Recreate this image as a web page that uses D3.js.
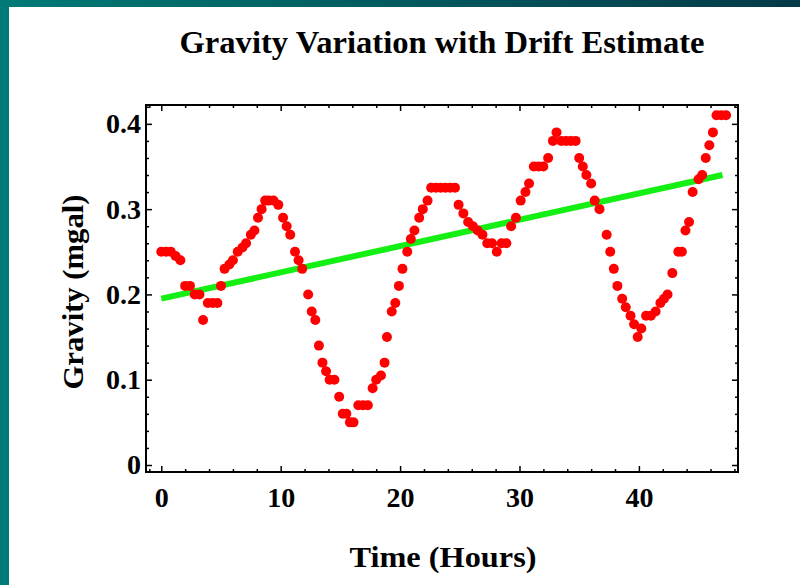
<!DOCTYPE html>
<html>
<head>
<meta charset="utf-8">
<script src="https://cdn.jsdelivr.net/npm/d3@7"></script>
<style>
  html, body { margin: 0; padding: 0; background: #fff; }
  #chart { width: 800px; height: 585px; }
  .axis text { font-family: "Liberation Serif", "DejaVu Serif", serif; font-weight: bold; fill: #000; }
  .axis path { display: none; }
  .axis line { stroke: #000; stroke-width: 1.5; }
</style>
</head>
<body>
<div id="chart"></div>
<script>
// hours since start of survey
const hours = [
  0.0, 0.4, 0.8, 1.2, 1.6, 2.0, 2.4, 2.8, 3.2, 3.5, 3.9, 4.3, 4.7, 5.0, 5.3, 5.7,
  6.0, 6.4, 6.8, 7.1, 7.5, 7.8, 8.1, 8.4, 8.7, 9.0, 9.4, 9.8, 10.2, 10.5, 10.8,
  11.2, 11.5, 11.8, 12.3, 12.6, 12.9, 13.2, 13.5, 13.8, 14.1, 14.5, 14.9, 15.2,
  15.5, 15.8, 16.1, 16.5, 16.9, 17.3, 17.7, 18.0, 18.4, 18.7, 18.9, 19.3, 19.6,
  19.9, 20.2, 20.6, 20.9, 21.2, 21.6, 21.9, 22.3, 22.6, 23.0, 23.4, 23.8, 24.2,
  24.6, 24.9, 25.3, 25.7, 26.1, 26.5, 26.9, 27.3, 27.7, 28.1, 28.5, 28.9, 29.3,
  29.7, 30.1, 30.5, 30.8, 31.2, 31.6, 32.0, 32.4, 32.8, 33.1, 33.5, 33.9, 34.3,
  34.7, 35.0, 35.3, 35.6, 36.0, 36.3, 36.7, 37.3, 37.6, 37.9, 38.2, 38.6, 38.9,
  39.3, 39.6, 39.9, 40.2, 40.6, 41.0, 41.4, 41.8, 42.1, 42.4, 42.8, 43.3, 43.6,
  43.9, 44.2, 44.5, 45.0, 45.3, 45.6, 45.9, 46.2, 46.5, 46.9, 47.3
];
// gravity reading (mgal)
const gravity = [
  0.25, 0.25, 0.25, 0.245, 0.24, 0.21, 0.21, 0.20, 0.20, 0.17, 0.19, 0.19, 0.19, 0.21, 0.23, 0.235,
  0.24, 0.25, 0.255, 0.26, 0.27, 0.275, 0.29, 0.30, 0.31, 0.31, 0.31, 0.305, 0.29, 0.28, 0.27,
  0.25, 0.24, 0.23, 0.20, 0.18, 0.17, 0.14, 0.12, 0.11, 0.10, 0.10, 0.08, 0.06,
  0.06, 0.05, 0.05, 0.07, 0.07, 0.07, 0.09, 0.10, 0.105, 0.12, 0.15, 0.18, 0.19,
  0.21, 0.23, 0.25, 0.265, 0.275, 0.29, 0.30, 0.31, 0.325, 0.325, 0.325, 0.325, 0.325,
  0.325, 0.305, 0.295, 0.285, 0.28, 0.275, 0.27, 0.26, 0.26, 0.25, 0.26, 0.26, 0.28,
  0.29, 0.31, 0.32, 0.33, 0.35, 0.35, 0.35, 0.36, 0.38, 0.39, 0.38, 0.38, 0.38,
  0.38, 0.36, 0.35, 0.34, 0.33, 0.31, 0.30, 0.27, 0.25, 0.23, 0.21, 0.195, 0.185,
  0.175, 0.165, 0.15, 0.16, 0.175, 0.175, 0.18, 0.19, 0.195, 0.20, 0.225, 0.25, 0.25,
  0.275, 0.285, 0.32, 0.335, 0.34, 0.36, 0.375, 0.39, 0.41, 0.41, 0.41
];
// linear drift estimate, end points
const driftHours = [0, 47];
const driftGravity = [0.195, 0.34];

const xTicks = [0, 10, 20, 30, 40];
const yTicks = [0, 0.1, 0.2, 0.3, 0.4];
const xMinor = [-1, 2, 4, 6, 8, 12, 14, 16, 18, 22, 24, 26, 28, 32, 34, 36, 38, 42, 44, 46, 48];
const yMinor = [0.02, 0.04, 0.06, 0.08, 0.12, 0.14, 0.16, 0.18, 0.22, 0.24, 0.26, 0.28, 0.32, 0.34, 0.36, 0.38, 0.42];

const titleText = "Gravity Variation with Drift Estimate";
const xLabel = "Time (Hours)";
const yLabel = "Gravity (mgal)";

const W = 800, H = 585;
const plot = {left: 146, right: 738, top: 105, bottom: 472};

const svg = d3.select("#chart").append("svg")
    .attr("width", W)
    .attr("height", H);

// teal page frame
const grad = svg.append("defs").append("linearGradient")
    .attr("id", "topbar")
    .attr("x1", "0%").attr("x2", "100%");
grad.append("stop").attr("offset", "0%").attr("stop-color", "#007a76");
grad.append("stop").attr("offset", "100%").attr("stop-color", "#053a48");

svg.append("rect").attr("x", 0).attr("y", 0).attr("width", W).attr("height", H).attr("fill", "#fff");
svg.append("rect").attr("x", 0).attr("y", 0).attr("width", W).attr("height", 7).attr("fill", "url(#topbar)");
svg.append("rect").attr("x", 0).attr("y", 0).attr("width", 9).attr("height", H).attr("fill", "#007a76");

// scales
const x = d3.scaleLinear()
    .domain([-1.28, 48.3])
    .range([plot.left, plot.right]);

const y = d3.scaleLinear()
    .domain([-0.0082, 0.4221])
    .range([plot.bottom, plot.top]);

// minor ticks on all four sides
svg.append("g").attr("class", "axis")
    .attr("transform", "translate(0," + plot.bottom + ")")
    .call(d3.axisBottom(x).tickValues(xMinor).tickSize(-3).tickFormat(""));
svg.append("g").attr("class", "axis")
    .attr("transform", "translate(0," + plot.top + ")")
    .call(d3.axisTop(x).tickValues(xMinor).tickSize(-3).tickFormat(""));
svg.append("g").attr("class", "axis")
    .attr("transform", "translate(" + plot.left + ",0)")
    .call(d3.axisLeft(y).tickValues(yMinor).tickSize(-3).tickFormat(""));
svg.append("g").attr("class", "axis")
    .attr("transform", "translate(" + plot.right + ",0)")
    .call(d3.axisRight(y).tickValues(yMinor).tickSize(-3).tickFormat(""));

// major ticks with labels
svg.append("g").attr("class", "axis x-axis")
    .attr("transform", "translate(0," + plot.bottom + ")")
    .call(d3.axisBottom(x).tickValues(xTicks).tickSize(-6).tickPadding(15).tickFormat(d3.format("d")))
    .selectAll("text").style("font-size", "28px");
svg.append("g").attr("class", "axis")
    .attr("transform", "translate(0," + plot.top + ")")
    .call(d3.axisTop(x).tickValues(xTicks).tickSize(-6).tickFormat(""));
svg.append("g").attr("class", "axis y-axis")
    .attr("transform", "translate(" + plot.left + ",0)")
    .call(d3.axisLeft(y).tickValues(yTicks).tickSize(-6).tickPadding(5)
        .tickFormat(d => d === 0 ? "0" : d3.format(".1f")(d)))
    .selectAll("text").style("font-size", "28px");
svg.append("g").attr("class", "axis")
    .attr("transform", "translate(" + plot.right + ",0)")
    .call(d3.axisRight(y).tickValues(yTicks).tickSize(-6).tickFormat(""));

// drift line (under the points)
const drift = driftHours.map((h, i) => ({h: h, g: driftGravity[i]}));
svg.append("path")
    .datum(drift)
    .attr("fill", "none")
    .attr("stroke", "#14f014")
    .attr("stroke-width", 6)
    .attr("d", d3.line().x(d => x(d.h)).y(d => y(d.g)));

// data points
const pts = hours.map((h, i) => ({h: h, g: gravity[i]}));
svg.append("g")
    .selectAll("circle")
    .data(pts)
    .join("circle")
    .attr("cx", d => x(d.h))
    .attr("cy", d => y(d.g))
    .attr("r", 5)
    .attr("fill", "#ff0000");

// frame
svg.append("rect")
    .attr("x", plot.left)
    .attr("y", plot.top)
    .attr("width", plot.right - plot.left)
    .attr("height", plot.bottom - plot.top)
    .attr("fill", "none")
    .attr("stroke", "#000")
    .attr("stroke-width", 2);

// titles
const serif = "'Liberation Serif', 'DejaVu Serif', serif";
svg.append("text")
    .attr("x", 442)
    .attr("y", 53)
    .attr("text-anchor", "middle")
    .attr("textLength", 525)
    .attr("lengthAdjust", "spacingAndGlyphs")
    .style("font-family", serif)
    .style("font-weight", "bold")
    .style("font-size", "32px")
    .text(titleText);

svg.append("text")
    .attr("x", 443)
    .attr("y", 567)
    .attr("text-anchor", "middle")
    .attr("textLength", 187)
    .attr("lengthAdjust", "spacingAndGlyphs")
    .style("font-family", serif)
    .style("font-weight", "bold")
    .style("font-size", "30px")
    .text(xLabel);

svg.append("text")
    .attr("transform", "translate(83,292) rotate(-90)")
    .attr("text-anchor", "middle")
    .attr("textLength", 195)
    .attr("lengthAdjust", "spacingAndGlyphs")
    .style("font-family", serif)
    .style("font-weight", "bold")
    .style("font-size", "30px")
    .text(yLabel);
</script>
</body>
</html>
